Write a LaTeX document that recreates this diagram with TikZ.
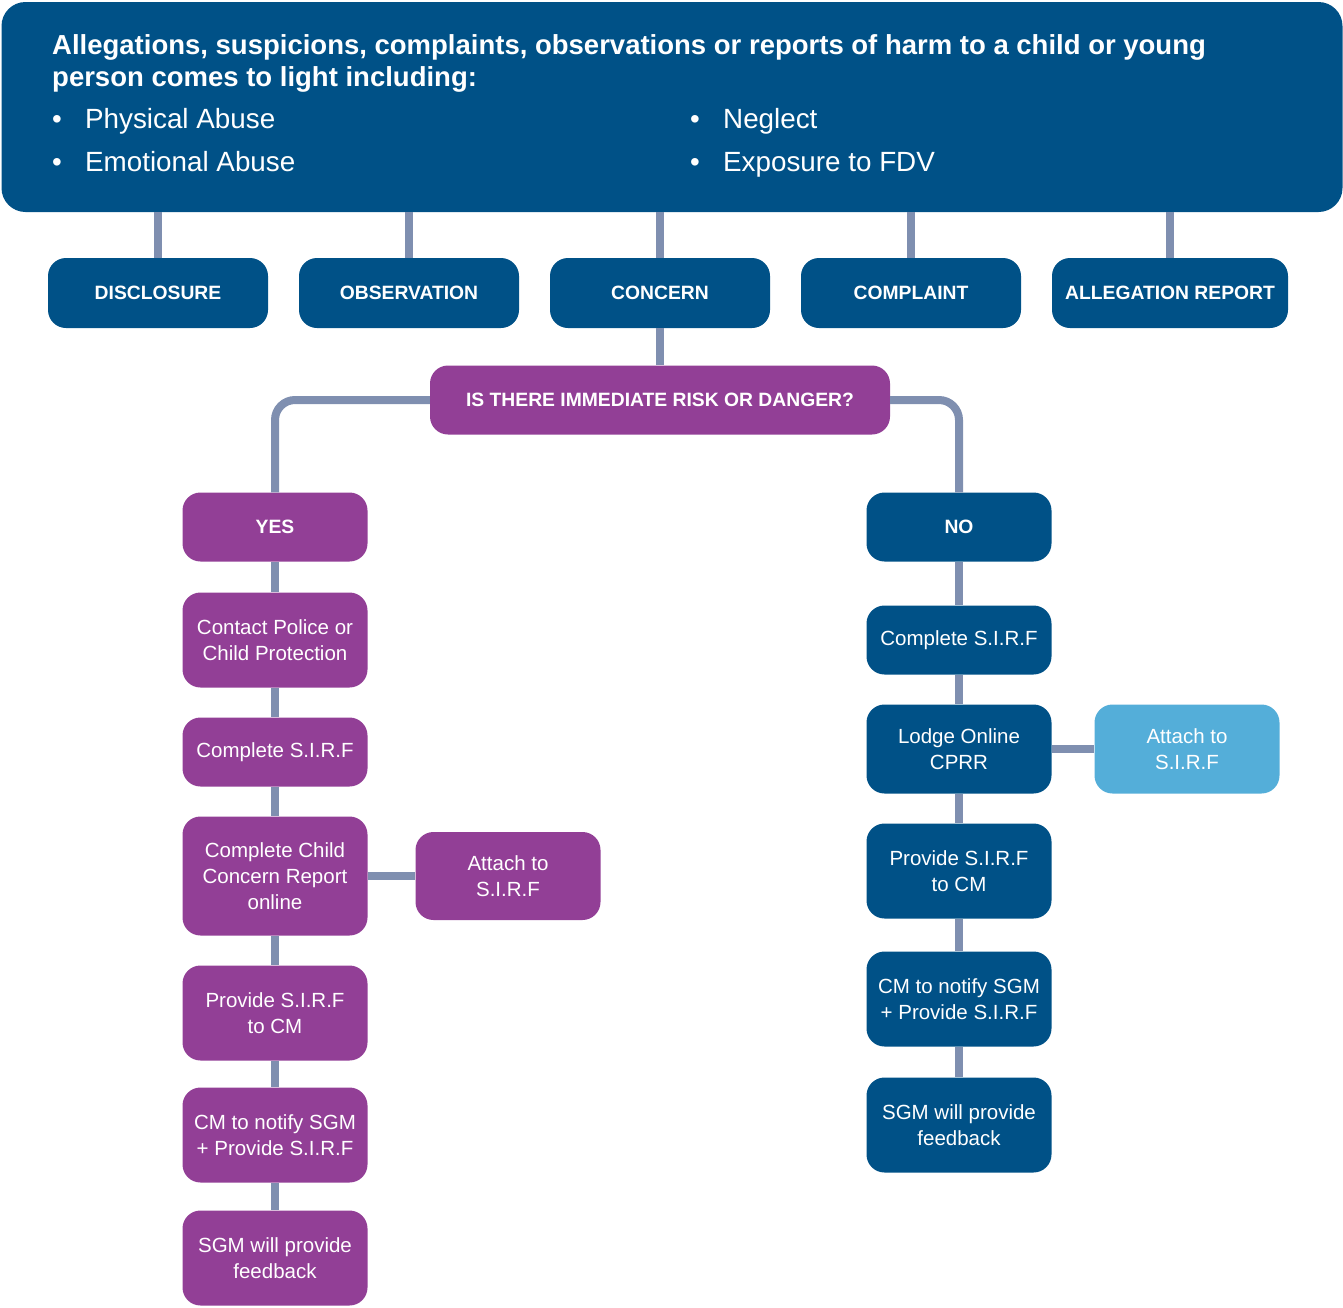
\documentclass[tikz,border=0pt]{standalone}
\usepackage{fontspec}
\setmainfont{Liberation Sans}
\definecolor{darkblue}{RGB}{0,81,135}
\definecolor{purp}{RGB}{146,63,150}
\definecolor{lightblue}{RGB}{84,174,217}
\definecolor{linec}{RGB}{127,143,176}

\begin{document}
\begin{tikzpicture}[x=1pt,y=-1pt,
  box/.style={rounded corners=18pt, minimum width=185pt, minimum height=69pt,
    inner sep=0pt, text=white, align=center, font=\fontsize{20.5}{26}\selectfont},
  bluebox/.style={box, fill=darkblue},
  purplebox/.style={box, fill=purp},
  capsfont/.style={font=\fontsize{19.3}{24}\bfseries},
  topbox/.style={bluebox, capsfont, minimum width=220pt, minimum height=70pt},
  hdrtext/.style={anchor=base west, inner sep=0pt, text=white},
  link/.style={draw=linec, line width=8pt}]
\useasboundingbox (0,0) rectangle (1343,1307);

% header
\node[fill=darkblue, rounded corners=24pt, minimum width=1341pt, minimum height=210pt, inner sep=0pt] (hdr) at (672,107) {};
\node[hdrtext, font=\fontsize{27.5}{31}\bfseries] (t1) at (52,54) {Allegations, suspicions, complaints, observations or reports of harm to a child or young};
\node[hdrtext, font=\fontsize{27.5}{31}\bfseries] (t2) at (52,86) {person comes to light including:};
\node[hdrtext, font=\fontsize{27.8}{32}\selectfont] (b1) at (52,128) {\makebox[33pt][l]{•}Physical Abuse};
\node[hdrtext, font=\fontsize{27.8}{32}\selectfont] (b2) at (52,171) {\makebox[33pt][l]{•}Emotional Abuse};
\node[hdrtext, font=\fontsize{27.8}{32}\selectfont] (b3) at (690,128) {\makebox[33pt][l]{•}Neglect};
\node[hdrtext, font=\fontsize{27.8}{32}\selectfont] (b4) at (690,171) {\makebox[33pt][l]{•}Exposure to FDV};

% top row
\node[topbox] (disc) at (158,293) {DISCLOSURE};
\node[topbox] (obs) at (409,293) {OBSERVATION};
\node[topbox] (conc) at (660,293) {CONCERN};
\node[topbox] (compl) at (911,293) {COMPLAINT};
\node[topbox, minimum width=236pt] (alleg) at (1170,293) {ALLEGATION REPORT};

\node[purplebox, capsfont, minimum width=460pt] (quest) at (660,400) {IS THERE IMMEDIATE RISK OR DANGER?};

% yes branch
\node[purplebox, capsfont] (yes) at (275,527) {YES};
\node[purplebox, minimum height=95pt] (police) at (275,640) {Contact Police or\\Child Protection};
\node[purplebox] (sirfL) at (275,752) {Complete S.I.R.F};
\node[purplebox, minimum height=119pt] (ccr) at (275,876) {Complete Child\\Concern Report\\online};
\node[purplebox, minimum height=88pt] (attL) at (508,876) {Attach to\\S.I.R.F};
\node[purplebox, minimum height=95pt] (provL) at (275,1013) {Provide S.I.R.F\\to CM};
\node[purplebox, minimum height=95pt] (cmL) at (275,1135) {CM to notify SGM\\+ Provide S.I.R.F};
\node[purplebox, minimum height=95pt] (sgmL) at (275,1258) {SGM will provide\\feedback};

% no branch
\node[bluebox, capsfont] (no) at (959,527) {NO};
\node[bluebox] (sirfR) at (959,640) {Complete S.I.R.F};
\node[bluebox, minimum height=89pt] (lodge) at (959,749) {Lodge Online\\CPRR};
\node[box, fill=lightblue, minimum height=89pt] (attR) at (1187,749) {Attach to\\S.I.R.F};
\node[bluebox, minimum height=95pt] (provR) at (959,871) {Provide S.I.R.F\\to CM};
\node[bluebox, minimum height=95pt] (cmR) at (959,999) {CM to notify SGM\\+ Provide S.I.R.F};
\node[bluebox, minimum height=95pt] (sgmR) at (959,1125) {SGM will provide\\feedback};

% connectors
\foreach \n in {disc,obs,conc,compl,alleg}
  \draw[link] (hdr.south -| \n.north) -- (\n.north);
\draw[link] (conc) -- (quest);
\draw[link, rounded corners=20pt] (quest.west) -| (yes.north);
\draw[link, rounded corners=20pt] (quest.east) -| (no.north);
\draw[link] (yes) -- (police) -- (sirfL) -- (ccr) -- (provL) -- (cmL) -- (sgmL);
\draw[link] (ccr) -- (attL);
\draw[link] (no) -- (sirfR) -- (lodge) -- (provR) -- (cmR) -- (sgmR);
\draw[link] (lodge) -- (attR);
\end{tikzpicture}
\end{document}
